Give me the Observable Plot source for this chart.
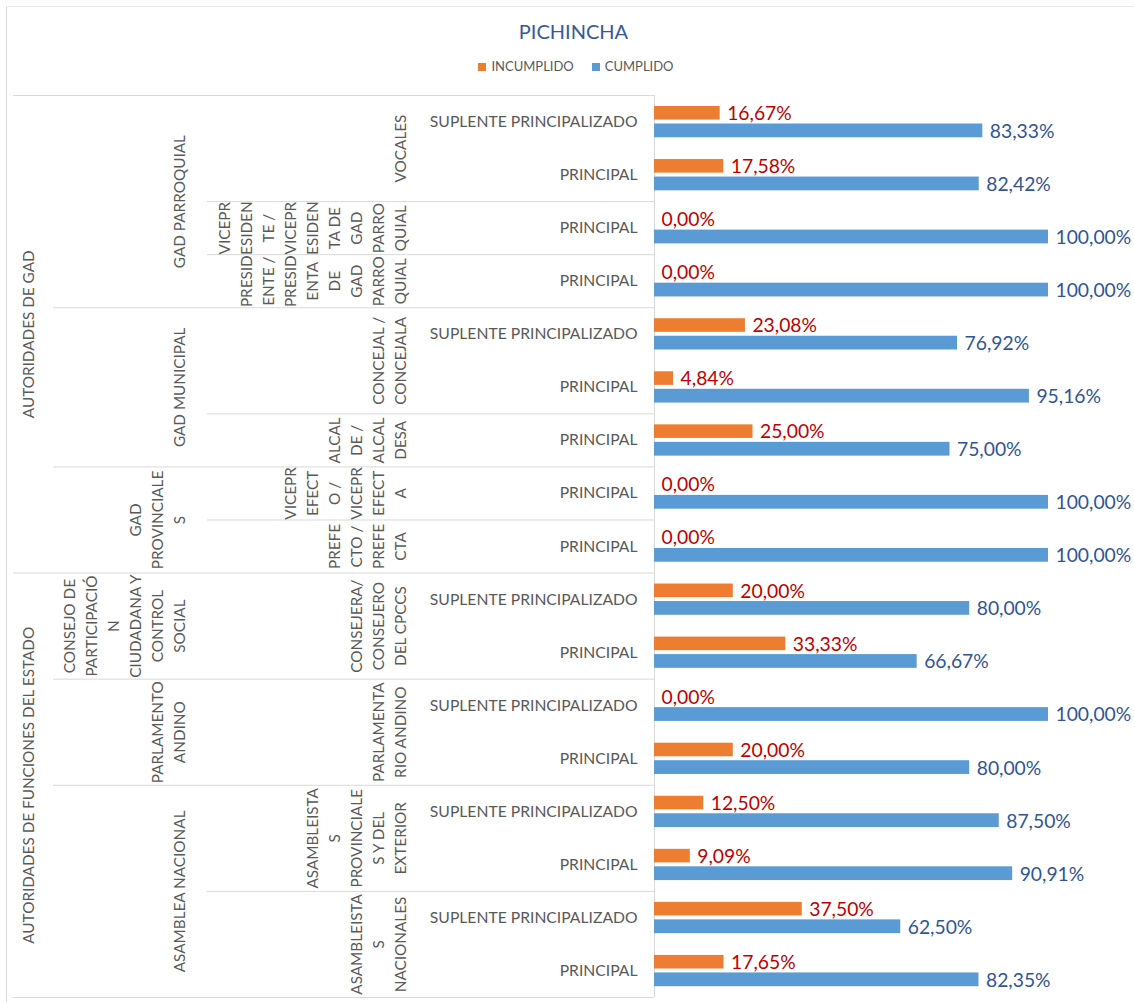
<!DOCTYPE html>
<html>
<head>
<meta charset="utf-8">
<script src="https://cdn.jsdelivr.net/npm/d3@7"></script>
<script src="https://cdn.jsdelivr.net/npm/@observablehq/plot@0.6"></script>
<style>
  html, body { margin: 0; padding: 0; background: #fff; }
  body { font-family: Lato, "Open Sans", sans-serif; width: 1134px; height: 1002px; position: relative; overflow: hidden; }
  #border { position: absolute; left: 6px; top: 6px; width: 1200px; height: 1100px; border-left: 1px solid #d9d9d9; border-top: 1px solid #ebebeb; }
  #header { position: relative; height: 80px; }
  #title { position: absolute; left: 0; top: 19px; width: 1147px; text-align: center; font-size: 20px; line-height: 24px; color: #35589c; }
  #legend { position: absolute; left: 0; top: 59px; width: 1152px; display: flex; justify-content: center; gap: 18px; font-size: 13px; line-height: 15px; color: #595959; }
  #legend span.sw { display: inline-block; width: 8px; height: 8px; margin-right: 5px; vertical-align: 0px; }
  #chart { position: relative; }
</style>
</head>
<body>
<div id="border"></div>
<div id="header">
  <div id="title"></div>
  <div id="legend"></div>
</div>
<div id="chart"></div>
<script>
// ---- Data ----
const titulo = "PICHINCHA";
const series = ["INCUMPLIDO", "CUMPLIDO"];
const colores = ["#ED7D31", "#5B9BD5"];
const colorEtiqueta = ["#C00000", "#2F5597"];

// Level 4 (one entry per row, top to bottom)
const cargo = [
  "SUPLENTE PRINCIPALIZADO", "PRINCIPAL",
  "PRINCIPAL",
  "PRINCIPAL",
  "SUPLENTE PRINCIPALIZADO", "PRINCIPAL",
  "PRINCIPAL",
  "PRINCIPAL",
  "PRINCIPAL",
  "SUPLENTE PRINCIPALIZADO", "PRINCIPAL",
  "SUPLENTE PRINCIPALIZADO", "PRINCIPAL",
  "SUPLENTE PRINCIPALIZADO", "PRINCIPAL",
  "SUPLENTE PRINCIPALIZADO", "PRINCIPAL"
];
const incumplido = [16.67, 17.58, 0, 0, 23.08, 4.84, 25.00, 0, 0, 20.00, 33.33, 0, 20.00, 12.50, 9.09, 37.50, 17.65];
const cumplido   = [83.33, 82.42, 100, 100, 76.92, 95.16, 75.00, 100, 100, 80.00, 66.67, 100, 80.00, 87.50, 90.91, 62.50, 82.35];

// Level 1, 2, 3 groups: [label (wrapped as in the reference), number of rows]
const nivel1 = [
  ["AUTORIDADES DE GAD", 9],
  ["AUTORIDADES DE FUNCIONES DEL ESTADO", 8]
];
const nivel2 = [
  ["GAD PARROQUIAL", 4],
  ["GAD MUNICIPAL", 3],
  ["GAD\nPROVINCIALE\nS", 2],
  ["CONSEJO DE\nPARTICIPACIÓ\nN\nCIUDADANA Y\nCONTROL\nSOCIAL", 2],
  ["PARLAMENTO\nANDINO", 2],
  ["ASAMBLEA NACIONAL", 4]
];
const nivel3 = [
  ["VOCALES", 2],
  ["VICEPR\nESIDEN\nTE /\nVICEPR\nESIDEN\nTA DE\nGAD\nPARRO\nQUIAL", 1],
  ["PRESID\nENTE /\nPRESID\nENTA\nDE\nGAD\nPARRO\nQUIAL", 1],
  ["CONCEJAL /\nCONCEJALA", 2],
  ["ALCAL\nDE /\nALCAL\nDESA", 1],
  ["VICEPR\nEFECT\nO /\nVICEPR\nEFECT\nA", 1],
  ["PREFE\nCTO /\nPREFE\nCTA", 1],
  ["CONSEJERA/\nCONSEJERO\nDEL CPCCS", 2],
  ["PARLAMENTA\nRIO ANDINO", 2],
  ["ASAMBLEISTA\nS\nPROVINCIALE\nS Y DEL\nEXTERIOR", 2],
  ["ASAMBLEISTA\nS\nNACIONALES", 2]
];

// ---- Build tables ----
const rows = cargo.map((c, i) => ({i, c, inc: incumplido[i], cum: cumplido[i]}));
function grupos(list) {
  let s = 0;
  return list.map(([label, n]) => { const g = {label, y0: s, y1: s + n, yc: s + n / 2}; s += n; return g; });
}
const g1 = grupos(nivel1), g2 = grupos(nivel2), g3 = grupos(nivel3);
const b1 = Array.from(new Set([0, ...g1.map(d => d.y1)]));
const b2 = g2.map(d => d.y1).filter(v => !b1.includes(v));
const b3 = g3.map(d => d.y1).filter(v => !b1.includes(v) && !b2.includes(v));
const fmt = v => v.toFixed(2).replace(".", ",") + "%";

// ---- Header ----
document.getElementById("title").textContent = titulo;
document.getElementById("legend").innerHTML = series.map((s, k) =>
  `<div><span class="sw" style="background:${colores[k]}"></span>${s}</div>`).join("");

// ---- Layout constants (pixels) ----
const W = 1134, H = 922, ML = 654;
const grid = "#d9d9d9", gray = "#595959";
const fs = 15.3, lh = 22 / fs;
const rot = {frameAnchor: "left", rotate: -90, textAnchor: "middle", lineAnchor: "bottom", lineHeight: lh, fill: gray, fontSize: fs};

const chart = Plot.plot({
  width: W, height: H,
  marginLeft: ML, marginRight: 0, marginTop: 15, marginBottom: 5,
  x: {domain: [0, 121.83], axis: null},
  y: {domain: [0, rows.length], reverse: true, axis: null},
  style: {fontFamily: "Lato, 'Open Sans', sans-serif", background: "transparent"},
  marks: [
    // category separators
    Plot.ruleY(b1, {y: d => d, stroke: grid, insetLeft: -(ML - 13), insetRight: W - ML}),
    Plot.ruleY(b2, {y: d => d, stroke: grid, insetLeft: -(ML - 53), insetRight: W - ML}),
    Plot.ruleY(b3, {y: d => d, stroke: grid, insetLeft: -(ML - 207), insetRight: W - ML}),
    Plot.ruleX([0], {stroke: grid}),
    // bars
    Plot.rect(rows, {x1: () => 0, x2: "inc", y1: "i", y2: d => d.i + 1, insetTop: 11, insetBottom: 28.5, fill: colores[0]}),
    Plot.rect(rows, {x1: () => 0, x2: "cum", y1: "i", y2: d => d.i + 1, insetTop: 28.5, insetBottom: 10.8, fill: colores[1]}),
    // data labels
    Plot.text(rows, {x: "inc", y: d => d.i + 0.5, text: d => fmt(d.inc), textAnchor: "start", dx: 7, dy: -8.2, fill: colorEtiqueta[0], fontSize: 19.3}),
    Plot.text(rows, {x: "cum", y: d => d.i + 0.5, text: d => fmt(d.cum), textAnchor: "start", dx: 7, dy: 9.6, fill: colorEtiqueta[1], fontSize: 19.3}),
    // level 4 labels
    Plot.text(rows, {y: d => d.i + 0.5, text: "c", frameAnchor: "left", textAnchor: "end", dx: -17, fill: gray, fontSize: 15.7}),
    // level 3 labels
    Plot.text(g3, {y: "yc", text: "label", dx: 405.5 - ML, ...rot}),
    // level 2 labels
    Plot.text(g2, {y: "yc", text: "label", dx: 184.5 - ML, ...rot}),
    // level 1 labels
    Plot.text(g1, {y: "yc", text: "label", dx: 33.5 - ML, ...rot})
  ]
});
document.getElementById("chart").appendChild(chart);
</script>
</body>
</html>
